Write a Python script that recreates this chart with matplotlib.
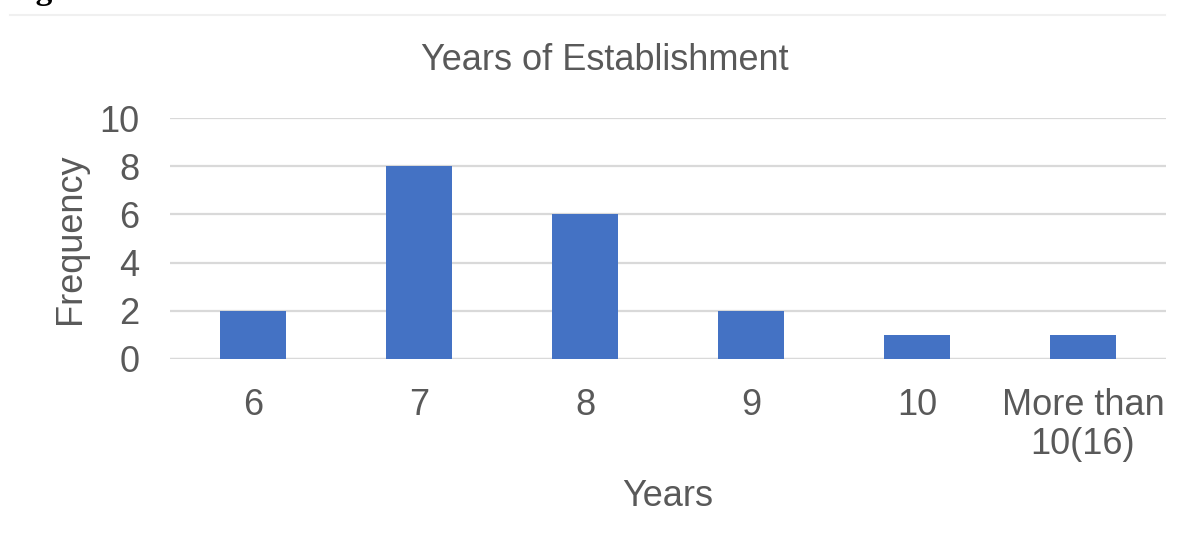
import matplotlib
matplotlib.use("Agg")
import matplotlib.pyplot as plt
from matplotlib.lines import Line2D

categories = ["6", "7", "8", "9", "10", "More than\n10(16)"]
frequency = [2, 8, 6, 2, 1, 1]
y_ticks = [0, 2, 4, 6, 8, 10]

plt.rcParams['font.family'] = ['Liberation Sans', 'DejaVu Sans']
text_color = "#595959"
fs = 26

W, H = 1184, 533
fig = plt.figure(figsize=(W / 100, H / 100), dpi=100)
fig.patch.set_facecolor("white")

# axes placed in pixel coordinates
left, right = 170, 1166
top, bottom = 118, 359
ax = fig.add_axes([left / W, 1 - bottom / H, (right - left) / W, (bottom - top) / H])

x = range(len(categories))
ax.bar(x, frequency, width=0.4, color="#4472c4", zorder=3)
ax.set_xlim(-0.5, len(categories) - 0.5)
ax.set_ylim(0, 10)
ax.set_yticks(y_ticks)
ax.set_xticks(list(x))
ax.set_xticklabels(categories, fontsize=fs, color=text_color, linespacing=1.15)
ax.tick_params(axis="y", labelsize=fs, labelcolor=text_color, length=0, pad=22)
ax.tick_params(axis="x", length=0, pad=21)
ax.grid(axis="y", color="#d9d9d9", linewidth=1.6, zorder=0)
for s in ax.spines.values():
    s.set_visible(False)
ax.axhline(0, color="#d9d9d9", linewidth=1.6, zorder=2)

# title is centred over the whole chart area, not just the plot
fig.text(605 / W, 1 - 70 / H, "Years of Establishment", fontsize=fs,
         color=text_color, ha="center", va="baseline")
ax.set_xlabel("Years", fontsize=fs, color=text_color, labelpad=12)
ax.set_ylabel("Frequency", fontsize=fs, color=text_color, labelpad=8)

# caption remnant and separator line at the top
fig.text(6 / W, 1 + 1 / H, "Figure", fontsize=24, fontweight="bold",
         family="Liberation Serif", color="black", va="baseline", ha="left")
fig.add_artist(Line2D([10 / W, 1165 / W], [1 - 15 / H, 1 - 15 / H],
                      color="#f0f0f0", linewidth=1.5, transform=fig.transFigure))

fig.savefig("out.png", dpi=100)
